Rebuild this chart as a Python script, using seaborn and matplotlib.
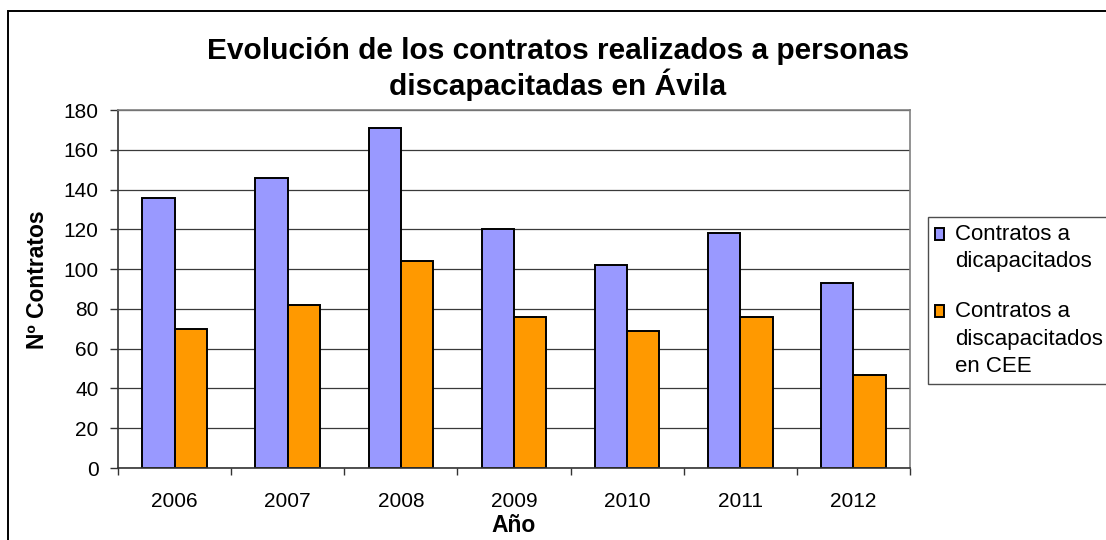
import matplotlib
matplotlib.use("Agg")
import matplotlib.pyplot as plt
import seaborn as sns
import pandas as pd
from matplotlib.patches import Rectangle
from matplotlib.legend_handler import HandlerPatch

# Data
years = ["2006", "2007", "2008", "2009", "2010", "2011", "2012"]
contratos_dicapacitados = [136, 146, 171, 120, 102, 118, 93]
contratos_cee = [70, 82, 104, 76, 69, 76, 47]
series_labels = ["Contratos a\ndicapacitados", "Contratos a\ndiscapacitados\nen CEE"]
y_ticks = [0, 20, 40, 60, 80, 100, 120, 140, 160, 180]

df = pd.DataFrame({
    "Año": years * 2,
    "Contratos": contratos_dicapacitados + contratos_cee,
    "Serie": [series_labels[0]] * len(years) + [series_labels[1]] * len(years),
})

sns.set_theme(style="white")
plt.rcParams["font.family"] = ["Liberation Sans", "DejaVu Sans"]
for key in ["text.color", "axes.labelcolor", "xtick.color", "ytick.color"]:
    plt.rcParams[key] = "black"

W, H = 1106, 540
fig = plt.figure(figsize=(W / 100, H / 100), dpi=100)
fig.patch.set_facecolor("white")

# outer chart frame (left and top edges visible)
fig.add_artist(Rectangle((8 / W, -0.1), 1.2, 1 - 11 / H + 0.1, transform=fig.transFigure,
                         fill=False, edgecolor="black", linewidth=1.4))

ax = fig.add_axes([118 / W, 1 - 468 / H, (910 - 118) / W, (468 - 110) / H])

palette = {series_labels[0]: "#9999FF", series_labels[1]: "#FF9900"}
sns.barplot(data=df, x="Año", y="Contratos", hue="Serie", order=years,
            hue_order=series_labels, palette=palette, width=4 / 7, gap=0,
            edgecolor="black", linewidth=1.4, saturation=1, ax=ax, legend=True)

ax.set_xlim(-0.5, len(years) - 0.5)
ax.set_ylim(0, 180)
ax.set_yticks(y_ticks)
ax.yaxis.grid(True, color="#3a3a3a", linewidth=0.9)
ax.set_axisbelow(True)

# year labels at category centres, tick marks between categories
ax.set_xticks(range(len(years)))
ax.set_xticklabels(years)
ax.tick_params(axis="x", which="major", length=0, pad=17, labelsize=15, labelcolor="black")
ax.set_xticks([i + 0.5 for i in range(-1, len(years))], minor=True)
ax.tick_params(axis="x", which="minor", length=5, width=1, color="#333333", bottom=True)
ax.tick_params(axis="y", which="major", length=6, width=1, color="#333333", left=True,
               pad=8, labelsize=15, labelcolor="black")

for side in ["top", "right"]:
    ax.spines[side].set_color("#808080")
    ax.spines[side].set_linewidth(1.2)
for side in ["left", "bottom"]:
    ax.spines[side].set_color("#333333")
    ax.spines[side].set_linewidth(1.2)

ax.set_xlabel("")
ax.set_ylabel("")

# axis titles
fig.text(38 / W, 1 - 280 / H, "Nº Contratos", rotation=90, ha="center", va="center",
         fontsize=16.5, fontweight="bold")
fig.text(514 / W, 1 - 532 / H, "Año", ha="center", va="baseline",
         fontsize=16.5, fontweight="bold")

# chart title
fig.text(558 / W, 1 - 59 / H, "Evolución de los contratos realizados a personas",
         ha="center", va="baseline", fontsize=21.5, fontweight="bold")
fig.text(558 / W, 1 - 95 / H, "discapacitadas en Ávila",
         ha="center", va="baseline", fontsize=21.5, fontweight="bold")


class FirstLineHandler(HandlerPatch):
    """Legend patch aligned with the first line of a multi-line label."""

    def __init__(self, shift, **kw):
        super().__init__(**kw)
        self.shift = shift

    def create_artists(self, legend, orig_handle, xdescent, ydescent, width, height,
                       fontsize, trans):
        artists = super().create_artists(legend, orig_handle, xdescent, ydescent,
                                         width, height, fontsize, trans)
        for a in artists:
            a.set_y(a.get_y() + self.shift)
        return artists


legend_fs = 16
line_step = 20.2  # points between label lines
handles, labels = ax.get_legend_handles_labels()
ax.get_legend().remove()
hmap = {h: FirstLineHandler(lab.count("\n") * line_step / 2) for h, lab in zip(handles, labels)}
leg = fig.legend(handles, labels, loc="upper left", bbox_to_anchor=(928 / W, 1 - 217 / H),
                 bbox_transform=fig.transFigure, frameon=True, fancybox=False,
                 fontsize=legend_fs, handlelength=0.42, handleheight=0.42, handletextpad=0.5,
                 borderpad=0.3, labelspacing=1.28, borderaxespad=0, handler_map=hmap)
leg.get_frame().set_edgecolor("#222222")
leg.get_frame().set_linewidth(1.0)
for t in leg.get_texts():
    t.set_linespacing(1.42)

fig.savefig("out.png", dpi=100)
